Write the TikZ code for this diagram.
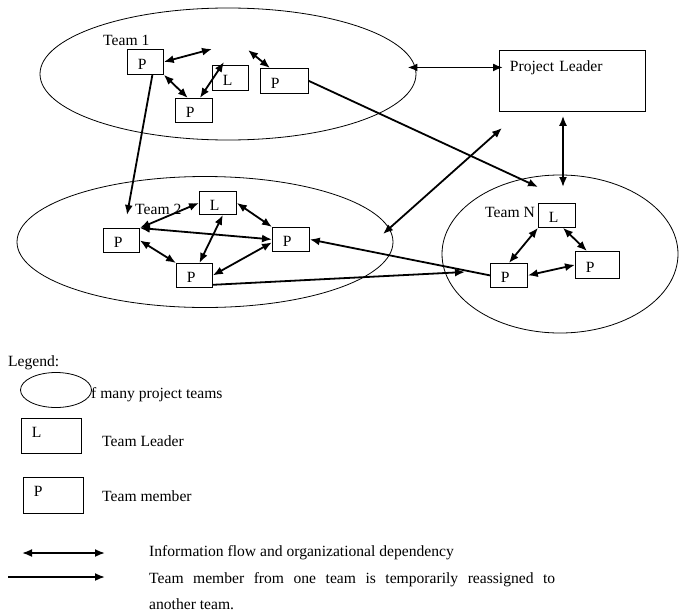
\documentclass[tikz,border=0pt]{standalone}
\usepackage{fontspec}
\setmainfont{Liberation Serif}
\usetikzlibrary{arrows.meta,shapes.geometric}

\tikzset{
  team/.style={draw, ellipse, line width=0.8pt, inner sep=0pt},
  box/.style={draw, line width=0.8pt, anchor=north west, inner xsep=10.5pt, inner ysep=0pt,
    text height=15pt, text depth=0pt, align=left},
  link/.style={line width=1.8pt, {Latex[length=10pt,width=8pt]}-{Latex[length=10pt,width=8pt]}},
  reassign/.style={line width=1.8pt, -{Latex[length=10pt,width=8pt]}},
  lbl/.style={anchor=base west, inner sep=0pt}
}

\begin{document}
\begin{tikzpicture}[x=1pt, y=-1pt, font=\fontsize{15.6pt}{18pt}\selectfont]
    \useasboundingbox (0,0) rectangle (679,613);
        %Teams
    \node[team, minimum width=376pt, minimum height=132pt] (team1) at (228,74) {};
    \node[team, minimum width=376pt, minimum height=131pt] (team2) at (205,242) {};
    \node[team, minimum width=236pt, minimum height=158pt] (teamN) at (560,254) {};
    \node[lbl] (t1) at (103,45) {Team 1};
    \node[lbl] (t2) at (135,214) {Team 2};
    \node[lbl] (tN) at (485,217) {Team N};
        %Project leader
    \node[box, text width=125pt, minimum height=61pt, text depth=34pt] (lead) at (499,50) {Project Leader};
        %Team 1
    \node[box, text width=15pt, minimum height=25pt] (p1a) at (127,49) {P};
    \node[box, text width=16pt, minimum height=24pt] (p1b) at (175,98) {P};
    \node[box, text width=15pt, minimum height=25pt] (l1) at (212,65) {L};
    \node[box, text width=27pt, minimum height=25pt] (p1c) at (260,68) {P};
        %Team 2
    \node[box, text width=16pt, minimum height=23pt] (l2) at (199,191) {L};
    \node[box, text width=15pt, minimum height=24pt] (p2a) at (103,228) {P};
    \node[box, text width=16pt, minimum height=24pt] (p2b) at (272,227) {P};
    \node[box, text width=15pt, minimum height=24pt] (p2c) at (176,263) {P};
        %Team N
    \node[box, text width=16pt, minimum height=24pt] (ln) at (538,203) {L};
    \node[box, text width=16pt, minimum height=24pt] (pna) at (490,263) {P};
    \node[box, text width=23pt, minimum height=27pt] (pnb) at (575,251) {P};
        %Loose arrow ends
    \coordinate (f1a) at (212,49);
    \coordinate (f1b) at (224,62);
    \coordinate (f1c) at (248,50);
    \coordinate (to2) at (127,215);
    \coordinate (toN) at (538,187);
    \coordinate (nTop) at (563,187);
    \coordinate (c1) at (383,234);
    \coordinate (c2) at (502,128);
    \coordinate (toP) at (465,272);
        %Information flow
    \draw[link] (p1a.east) -- (f1a);
    \draw[link] (p1a.south east) -- ([xshift=-6pt]p1b.north);
    \draw[link] ([xshift=6pt]p1b.north) -- (f1b);
    \draw[link] (f1c) -- ([xshift=10pt]p1c.north west);
    \foreach \a/\b in {p2a.north east/l2.west, l2.east/p2b.north west, p2a.east/p2c.north west,
                       p2a.north east/p2b.west, ln.south west/pna.north, pna.east/pnb.west}
    \draw[link] (\a) -- (\b);
    \draw[link] ([xshift=5pt]l2.south) -- ([xshift=5pt]p2c.north);
    \draw[link] (p2c.east) -- ([yshift=-3pt]p2b.west);
    \draw[link] ([xshift=6pt]ln.south) -- ([xshift=12pt]pnb.north west);
    \draw[link] ([xshift=-8pt]team1.2) -- ([xshift=4pt]team1.2 -| lead.west);
    \draw[link] ([yshift=-4pt]nTop |- lead.south) -- (nTop);
    \draw[link] (c1) -- (c2);
        %Reassigned members
    \draw[reassign] ([xshift=7pt]p1a.south) -- (to2);
    \draw[reassign] (p1c.east) -- (toN);
    \draw[reassign] (pna.west) -- (p2b.east);
    \draw[reassign] ([yshift=3pt]p2c.south east) -- (toP);
        %Legend
    \node[lbl] (leg) at (8,366) {Legend:};
    \node[lbl] (legTxt) at (91,398) {f many project teams};
    \node[team, fill=white, minimum width=71pt, minimum height=35pt] (legT) at (56,390) {};
    \node[box, text width=39pt, minimum height=35pt, text depth=12pt] (legL) at (21,418) {L};
    \node[lbl] (legLTxt) at (102,446) {Team Leader};
    \node[box, text width=39pt, minimum height=36pt, text depth=12pt] (legP) at (23,477) {P};
    \node[lbl] (legPTxt) at (102,501) {Team member};
    \coordinate (ka) at (22,553);
    \coordinate (kb) at (105,553);
    \coordinate (kc) at (8,577);
    \coordinate (kd) at (105,577);
    \draw[link] (ka) -- (kb);
    \draw[reassign] (kc) -- (kd);
    \node[lbl] (kbTxt) at (149,556) {Information flow and organizational dependency};
    \node[lbl] (kdTxt) at (149,583) {\makebox[406pt][s]{Team member from one team is temporarily reassigned to}};
    \node[lbl] (kdTxt2) at (149,609) {another team.};
\end{tikzpicture}
\end{document}
